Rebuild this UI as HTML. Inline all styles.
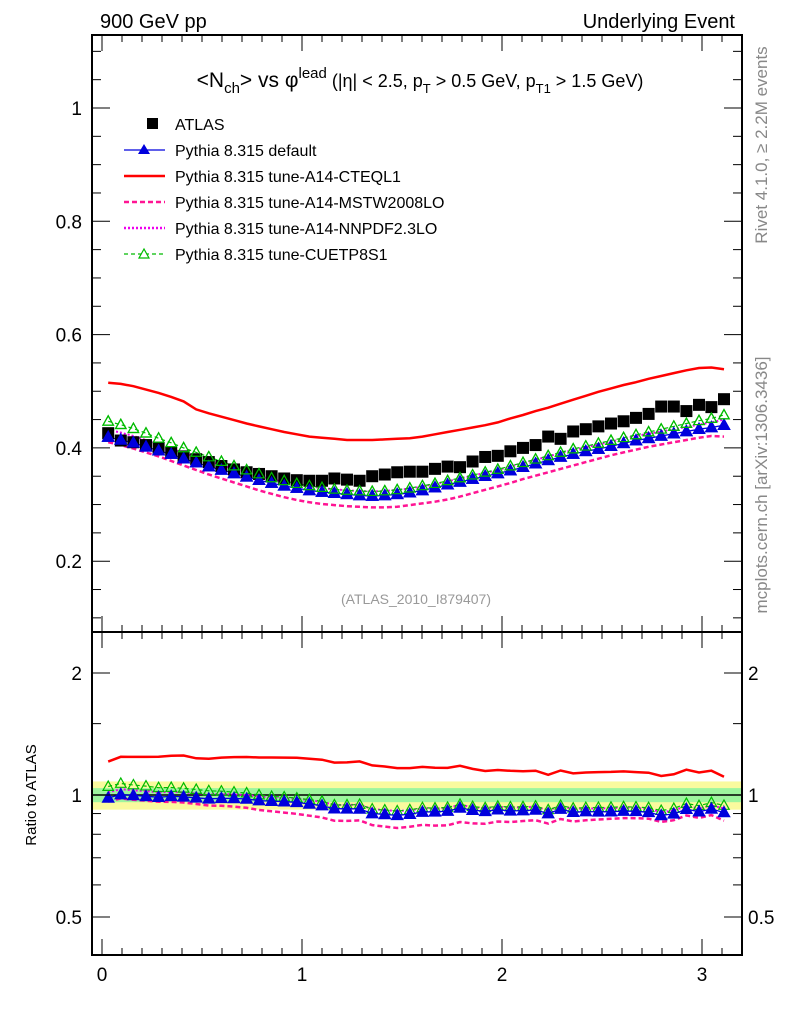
<!DOCTYPE html>
<html><head><meta charset="utf-8"><style>
body{margin:0;background:#fff;}
svg{display:block;font-family:"Liberation Sans","DejaVu Sans",sans-serif;}
</style></head><body>
<svg id="c" width="786" height="1024" viewBox="0 0 786 1024" xmlns="http://www.w3.org/2000/svg">
<g id="bands"></g>
<g id="marks"></g>
<g id="axes"></g>
<text x="100" y="28" font-size="20">900 GeV pp</text>
<text x="735" y="28" font-size="20" text-anchor="end">Underlying Event</text>
<text x="420" y="87" font-size="21" text-anchor="middle">&lt;N<tspan font-size="15" dy="6">ch</tspan><tspan dy="-6">&gt; vs φ</tspan><tspan font-size="15" dy="-9">lead</tspan><tspan font-size="18" dy="9"> (|η| &lt; 2.5, p</tspan><tspan font-size="13" dy="6">T</tspan><tspan font-size="18" dy="-6"> &gt; 0.5 GeV, p</tspan><tspan font-size="13" dy="6">T1</tspan><tspan font-size="18" dy="-6"> &gt; 1.5 GeV)</tspan></text>
<text x="416" y="604" font-size="14" fill="#999" text-anchor="middle">(ATLAS_2010_I879407)</text>
<text transform="translate(767,145) rotate(-90)" font-size="17" fill="#888" text-anchor="middle">Rivet 4.1.0, ≥ 2.2M events</text>
<text transform="translate(767,485) rotate(-90)" font-size="17" fill="#888" text-anchor="middle">mcplots.cern.ch [arXiv:1306.3436]</text>
<text transform="translate(36,795) rotate(-90)" font-size="15" text-anchor="middle">Ratio to ATLAS</text>
<g id="legend"></g>
</svg>
<script>
const phiCenters=[0.031,0.094,0.157,0.220,0.283,0.346,0.408,0.471,0.534,0.597,0.660,0.723,0.785,0.848,0.911,0.974,1.037,1.100,1.162,1.225,1.288,1.351,1.414,1.476,1.539,1.602,1.665,1.728,1.790,1.853,1.916,1.979,2.042,2.105,2.168,2.231,2.293,2.356,2.419,2.482,2.545,2.608,2.670,2.733,2.796,2.859,2.922,2.985,3.047,3.110];
const atlas=[0.426,0.413,0.410,0.405,0.400,0.392,0.385,0.380,0.375,0.368,0.362,0.357,0.354,0.350,0.346,0.343,0.342,0.342,0.346,0.344,0.342,0.350,0.353,0.357,0.358,0.358,0.363,0.367,0.366,0.376,0.384,0.386,0.394,0.400,0.405,0.420,0.416,0.429,0.433,0.438,0.443,0.447,0.453,0.460,0.473,0.473,0.465,0.476,0.472,0.486];
const pyDefault=[0.419,0.414,0.409,0.402,0.395,0.389,0.381,0.374,0.367,0.361,0.355,0.349,0.343,0.338,0.333,0.329,0.325,0.322,0.320,0.318,0.316,0.315,0.316,0.318,0.321,0.325,0.330,0.335,0.340,0.345,0.350,0.355,0.360,0.366,0.372,0.378,0.384,0.389,0.394,0.398,0.403,0.408,0.413,0.417,0.421,0.425,0.429,0.433,0.436,0.440];
const pyCTEQ=[0.515,0.513,0.509,0.503,0.497,0.490,0.482,0.468,0.461,0.455,0.449,0.443,0.438,0.433,0.428,0.424,0.420,0.418,0.416,0.414,0.414,0.414,0.415,0.416,0.417,0.420,0.424,0.428,0.432,0.436,0.440,0.445,0.452,0.458,0.465,0.471,0.478,0.485,0.492,0.499,0.505,0.511,0.516,0.522,0.527,0.532,0.537,0.541,0.542,0.539];
const pyMSTW=[0.410,0.405,0.399,0.392,0.385,0.377,0.369,0.361,0.353,0.346,0.339,0.332,0.325,0.319,0.313,0.308,0.304,0.301,0.299,0.297,0.296,0.295,0.295,0.296,0.299,0.302,0.305,0.309,0.314,0.320,0.326,0.332,0.338,0.345,0.351,0.357,0.363,0.369,0.375,0.381,0.387,0.392,0.397,0.402,0.406,0.410,0.414,0.418,0.421,0.420];
const pyNNPDF=[0.432,0.427,0.421,0.414,0.406,0.399,0.391,0.384,0.377,0.370,0.363,0.357,0.351,0.345,0.340,0.336,0.332,0.329,0.327,0.325,0.324,0.323,0.324,0.326,0.328,0.332,0.336,0.341,0.346,0.351,0.356,0.361,0.367,0.373,0.379,0.385,0.391,0.396,0.401,0.406,0.411,0.416,0.421,0.425,0.429,0.433,0.437,0.441,0.445,0.450];
const pyCUETP=[0.447,0.441,0.434,0.426,0.417,0.409,0.400,0.392,0.384,0.376,0.368,0.361,0.354,0.347,0.342,0.337,0.333,0.330,0.327,0.325,0.324,0.323,0.324,0.326,0.329,0.333,0.337,0.342,0.347,0.352,0.357,0.362,0.368,0.374,0.380,0.386,0.392,0.398,0.403,0.408,0.413,0.418,0.423,0.428,0.433,0.438,0.443,0.448,0.452,0.458];
const bandInner=0.04, bandOuter=0.08;
const xTicks=[0,1,2,3];
const mainYTicks=[0.2,0.4,0.6,0.8,1];
const ratioYTicks=[0.5,1,2];

const NS='http://www.w3.org/2000/svg';
const L=92,R=742,T=35,M=632,B=955;
const xS=v=>102+200*v;
const yM=v=>108+(1-v)*566.5;
const yR=v=>795-Math.log2(v)*122;
function mk(tag,attrs,parent){const e=document.createElementNS(NS,tag);for(const k in attrs)e.setAttribute(k,attrs[k]);(parent||document.getElementById('marks')).appendChild(e);return e;}
const axes=document.getElementById('axes');
const bands=document.getElementById('bands');
const marks=document.getElementById('marks');
const leg=document.getElementById('legend');

let b1=mk('rect',{x:L+1,y:yR(1+bandOuter),width:R-L-2,height:yR(1-bandOuter)-yR(1+bandOuter),fill:'#fafa9e'},bands);


let b2=mk('rect',{x:L+1,y:yR(1+bandInner),width:R-L-2,height:yR(1-bandInner)-yR(1+bandInner),fill:'#9ef59e'},bands);


let ul=mk('line',{x1:L,x2:R,y1:yR(1),y2:yR(1),stroke:'#000','stroke-width':1.5},bands);



let f1=mk('rect',{x:L,y:T,width:R-L,height:M-T,fill:'none',stroke:'#000','stroke-width':2},axes);


let f2=mk('rect',{x:L,y:M,width:R-L,height:B-M,fill:'none',stroke:'#000','stroke-width':2},axes);



for(let k=0;k<=31;k++){const v=k*0.1;const X=xS(v);const maj=k%10===0;const len=maj?16:7;
 for(const [yb,dir] of [[T,1],[M,-1],[M,1],[B,-1]]){let t=mk('line',{x1:X,x2:X,y1:yb,y2:yb+dir*len,stroke:'#000','stroke-width':1},axes);}}
xTicks.forEach(v=>{let t=mk('text',{x:xS(v),y:981,'font-size':19,'text-anchor':'middle'},axes);t.textContent=v;});

for(let k=2;k<=22;k++){const v=k*0.05;const Y=yM(v);if(Y<T||Y>M)continue;const maj=k%4===0;const len=maj?18:9;
 for(const [xb,dir] of [[L,1],[R,-1]]){let t=mk('line',{x1:xb,x2:xb+dir*len,y1:Y,y2:Y,stroke:'#000','stroke-width':1},axes);}}
mainYTicks.forEach(v=>{let t=mk('text',{x:82,y:yM(v)+7,'font-size':19,'text-anchor':'end'},axes);t.textContent=String(v);});

[0.4,0.5,0.6,0.7,0.8,0.9,1,2].concat([1.5]).forEach(v=>{const Y=yR(v);if(Y<M||Y>B)return;const maj=ratioYTicks.includes(v);const len=maj?18:9;
 for(const [xb,dir] of [[L,1],[R,-1]]){let t=mk('line',{x1:xb,x2:xb+dir*len,y1:Y,y2:Y,stroke:'#000','stroke-width':1},axes);}});
ratioYTicks.forEach(v=>{let t=mk('text',{x:82,y:yR(v)+7,'font-size':19,'text-anchor':'end'},axes);t.textContent=String(v);
 let t2=mk('text',{x:748,y:yR(v)+7,'font-size':19},axes);t2.textContent=String(v);});

const series=[
 {name:'pythia-default',vals:pyDefault,color:'#0000dd',dash:'',w:1.3,marker:'tri'},
 {name:'pythia-a14-cteql1',vals:pyCTEQ,color:'#ff0000',dash:'',w:2.5,marker:''},
 {name:'pythia-a14-mstw2008lo',vals:pyMSTW,color:'#ff1493',dash:'5,3',w:2.5,marker:''},
 {name:'pythia-a14-nnpdf23lo',vals:pyNNPDF,color:'#ee00ee',dash:'2,2',w:2,marker:''},
 {name:'pythia-cuetp8s1',vals:pyCUETP,color:'#00bb00',dash:'4,3',w:1.2,marker:'otri'}
];
function tri(x,y,s,fill,stroke,nm){let p=mk('polygon',{points:`${x},${y-s} ${x-s*0.95},${y+s*0.7} ${x+s*0.95},${y+s*0.7}`,fill:fill,stroke:stroke,'stroke-width':1.2});}
const order=[2,3,1,4,0];
order.forEach(si=>{const s=series[si];
 for(const panel of ['main','ratio']){
  const yf=panel==='main'?(i=>yM(s.vals[i])):(i=>yR(s.vals[i]/atlas[i]));
  const pts=phiCenters.map((x,i)=>xS(x).toFixed(1)+','+yf(i).toFixed(1)).join(' ');
  let pl=mk('polyline',{points:pts,fill:'none',stroke:s.color,'stroke-width':s.w,'stroke-dasharray':s.dash});
  
  
  if(s.marker){phiCenters.forEach((x,i)=>{if(s.marker==='tri')tri(xS(x),yf(i),6,s.color,s.color,s.name+'-point');else tri(xS(x),yf(i),5.5,'none',s.color,s.name+'-point');});}
 }
});
phiCenters.forEach((x,i)=>{let r=mk('rect',{x:xS(x)-6,y:yM(atlas[i])-6,width:12,height:12,fill:'#000'});});
series.forEach(s=>{if(!s.marker)return;phiCenters.forEach((x,i)=>{const y=yM(s.vals[i]);if(s.marker==='tri')tri(xS(x),y,6,s.color,s.color,s.name+'-point');else tri(xS(x),y,5.5,'none',s.color,s.name+'-point');});});

const legRows=[['ATLAS','sq','#000',''],['Pythia 8.315 default','tri','#0000dd',''],['Pythia 8.315 tune-A14-CTEQL1','','#ff0000',''],['Pythia 8.315 tune-A14-MSTW2008LO','','#ff1493','5,3'],['Pythia 8.315 tune-A14-NNPDF2.3LO','','#ee00ee','2,2'],['Pythia 8.315 tune-CUETP8S1','otri','#00bb00','4,3']];
legRows.forEach((r,k)=>{const y=124+k*26;
 if(r[1]!=='sq'){let l=mk('line',{x1:124,x2:165,y1:y,y2:y,stroke:r[2],'stroke-width':r[1]==='tri'||r[1]==='otri'?1.2:2.5,'stroke-dasharray':r[3]},leg);}
 if(r[1]==='sq'){let q=mk('rect',{x:147,y:y-6,width:11,height:11,fill:'#000'},leg);}
 if(r[1]==='tri'){let p=mk('polygon',{points:`144,${y-6} 138,${y+4} 150,${y+4}`,fill:r[2]},leg);}
 if(r[1]==='otri'){let p=mk('polygon',{points:`144,${y-5} 139,${y+4} 149,${y+4}`,fill:'#fff',stroke:r[2],'stroke-width':1.2},leg);}
 let t=mk('text',{x:175,y:y+6,'font-size':16},leg);t.textContent=r[0];
});
</script>
</body></html>
